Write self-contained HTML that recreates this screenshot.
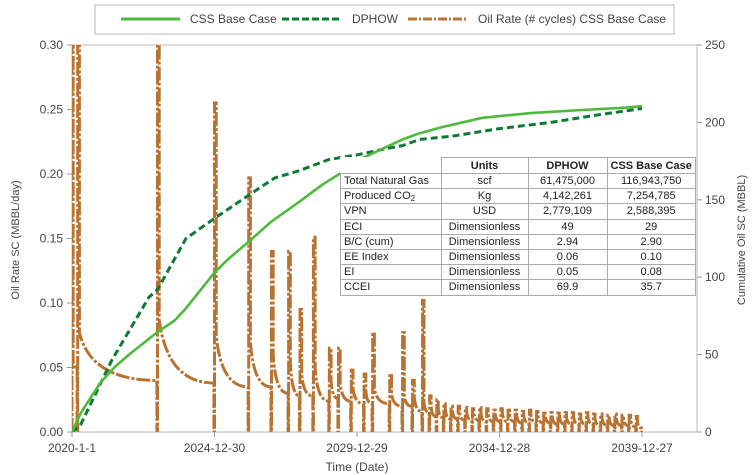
<!DOCTYPE html>
<html><head><meta charset="utf-8">
<style>
body{margin:0;background:#fff;font-family:"Liberation Sans",sans-serif;}
#wrap{position:relative;width:753px;height:475px;overflow:hidden;}
svg text{font-family:"Liberation Sans",sans-serif;fill:#444;}
table.kpi{position:absolute;left:340px;top:157px;border-collapse:collapse;background:#fff;font-size:11px;color:#222;}
table.kpi td{border:1px solid #aaa;height:14.2px;padding:0 3px;line-height:14px;white-space:nowrap;}
table.kpi td.c{text-align:center;}
table.kpi tr.h td{font-weight:bold;text-align:center;height:15px;}
table.kpi td.blank{border:none;border-right:1px solid #aaa;border-bottom:1px solid #aaa;}
sub{font-size:8px;line-height:0;vertical-align:-2px;}
</style></head>
<body>
<div id="wrap">
<svg id="chart" width="753" height="475"></svg>
<table class="kpi">
<tr class="h"><td class="blank" style="width:94px"></td><td style="width:80px">Units</td><td style="width:72px">DPHOW</td><td style="width:78px">CSS Base Case</td></tr>
<tr><td>Total Natural Gas</td><td class="c">scf</td><td class="c">61,475,000</td><td class="c">116,943,750</td></tr>
<tr><td>Produced CO<sub>2</sub></td><td class="c">Kg</td><td class="c">4,142,261</td><td class="c">7,254,785</td></tr>
<tr><td>VPN</td><td class="c">USD</td><td class="c">2,779,109</td><td class="c">2,588,395</td></tr>
<tr><td>ECI</td><td class="c">Dimensionless</td><td class="c">49</td><td class="c">29</td></tr>
<tr><td>B/C (cum)</td><td class="c">Dimensionless</td><td class="c">2.94</td><td class="c">2.90</td></tr>
<tr><td>EE Index</td><td class="c">Dimensionless</td><td class="c">0.06</td><td class="c">0.10</td></tr>
<tr><td>EI</td><td class="c">Dimensionless</td><td class="c">0.05</td><td class="c">0.08</td></tr>
<tr><td>CCEI</td><td class="c">Dimensionless</td><td class="c">69.9</td><td class="c">35.7</td></tr>
</table>
</div>
<script>
// ---- data ----
const xTickLabels = ["2020-1-1","2024-12-30","2029-12-29","2034-12-28","2039-12-27"];
const xTickYears = [0,5,10,15,20];
const leftTicks = [0,0.05,0.10,0.15,0.20,0.25,0.30];
const rightTicks = [0,50,100,150,200,250];
// cumulative oil (MBBL), years since 2020-1-1
const cssT = [0,0.3,1,1.5,2,3,3.6,4,5,5.5,6.2,7,8,8.8,9.5,10.2,10.9,11.6,12.2,13,14.4,16.1,17.9,19.4,20];
const cssV = [0,12,32,42,50,64.6,72,80,103,112,123,136,149,160,168,177,183,189,193,197,203,206,208,209.5,210.5];
const dphT = [0,0.3,1.4,2.7,3,4,5,6.2,7.1,8,9,10,11,11.6,12.2,13.3,15,16.8,18.5,20];
const dphV = [0,4.5,46.5,87,92,125,138,153,164,169,176,179,183,185,189,191,196,200,205,209];
// oil rate cycles (MBBL/day): start year, peak, value after spike, value at end of cycle
const cycStart = [0,0.2,3.0,5.0,6.2,7.0,7.6,8.0,8.47,9.03,9.35,9.8,10.25,10.55,11.15,11.6,11.95,12.3,12.55,12.8,13.05,13.3,13.55,13.8,14.05,14.3,14.55,14.8,15.05,15.3,15.55,15.8,16.05,16.3,16.55,16.8,17.05,17.3,17.55,17.8,18.05,18.3,18.55,18.8,19.05,19.3,19.55,19.8];
const cycPeak  = [0.30,0.30,0.30,0.255,0.197,0.14,0.14,0.095,0.151,0.065,0.065,0.048,0.045,0.077,0.045,0.077,0.04,0.102,0.028,0.025,0.022,0.020,0.020,0.019,0.018,0.019,0.018,0.017,0.018,0.017,0.017,0.016,0.017,0.016,0.016,0.015,0.016,0.015,0.015,0.014,0.015,0.014,0.014,0.013,0.014,0.013,0.013,0.012];
const cycAfter = [0.053,0.077,0.087,0.075,0.07,0.06,0.055,0.045,0.05,0.04,0.038,0.034,0.032,0.034,0.03,0.028,0.027,0.024,0.02,0.019,0.018,0.017,0.016,0.016,0.015,0.015,0.015,0.014,0.015,0.014,0.014,0.013,0.014,0.013,0.013,0.012,0.013,0.012,0.012,0.011,0.012,0.011,0.011,0.010,0.011,0.010,0.010,0.009];
const cycEnd   = [0.05,0.040,0.038,0.035,0.035,0.03,0.028,0.028,0.024,0.026,0.024,0.022,0.022,0.022,0.02,0.02,0.016,0.015,0.012,0.011,0.01,0.01,0.009,0.009,0.009,0.008,0.008,0.008,0.008,0.008,0.007,0.007,0.007,0.007,0.007,0.006,0.006,0.006,0.006,0.006,0.006,0.005,0.005,0.005,0.005,0.005,0.004,0.003];
const endYear = 20.0;

// ---- layout ----
const L=72,R=697,T=45,B=432;
const xs=t=>L+28.5*t;
const yl=v=>B-(v/0.30)*(B-T);
const yr=v=>B-(v/250)*(B-T);
const svg=document.getElementById('chart');
const NS='http://www.w3.org/2000/svg';
function mk(tag,attrs,parent){const e=document.createElementNS(NS,tag);for(const k in attrs)e.setAttribute(k,attrs[k]);(parent||svg).appendChild(e);return e;}

const defs=mk('defs',{});const cp=mk('clipPath',{id:'plotclip'},defs);mk('rect',{x:L,y:T,width:R-L,height:B-T},cp);

let e=mk('rect',{x:L,y:T,width:R-L,height:B-T,fill:'none',stroke:'#bbb','stroke-width':1});



leftTicks.forEach(v=>{
  const y=yl(v);
  let t=mk('line',{x1:L-5,x2:L,y1:y,y2:y,stroke:'#999'});
  
  
  let tx=mk('text',{x:L-9,y:y+4,'text-anchor':'end','font-size':12});
  tx.textContent=v.toFixed(2);
  
  
});
rightTicks.forEach(v=>{
  const y=yr(v);
  let t=mk('line',{x1:R,x2:R+5,y1:y,y2:y,stroke:'#999'});
  
  
  let tx=mk('text',{x:R+8,y:y+4,'text-anchor':'start','font-size':12});
  tx.textContent=v;
  
  
});
xTickYears.forEach((t,i)=>{
  const x=xs(t);
  let l=mk('line',{x1:x,x2:x,y1:B,y2:B+5,stroke:'#999'});
  
  
  let tx=mk('text',{x:x,y:B+20,'text-anchor':'middle','font-size':12});
  tx.textContent=xTickLabels[i];
  
  
});

e=mk('text',{x:357,y:471,'text-anchor':'middle','font-size':12});
e.textContent='Time (Date)';


e=mk('text',{x:0,y:0,'text-anchor':'middle','font-size':11,transform:'translate(19,240) rotate(-90)'});
e.textContent='Oil Rate SC (MBBL/day)';


e=mk('text',{x:0,y:0,'text-anchor':'middle','font-size':11,transform:'translate(745,240) rotate(-90)'});
e.textContent='Cumulative Oil SC (MBBL)';



const g=mk('g',{'clip-path':'url(#plotclip)'});

// oil rate series
let d='';
for(let i=0;i<cycStart.length;i++){
  const s=cycStart[i], nx=(i+1<cycStart.length?cycStart[i+1]:endYear);
  const dur=nx-s;
  const x0=xs(s), xa=xs(s+Math.min(0.06,dur*0.2)), xe=xs(nx-0.02);
  d+=(i===0?'M':'L')+x0+','+yl(0)+' L'+x0+','+yl(cycPeak[i])+' L'+xa+','+yl(cycPeak[i])+' L'+xa+','+yl(cycAfter[i]);
  const cx=xa+(xe-xa)*0.15, cy=yl(cycEnd[i]);
  d+=' Q'+cx+','+cy+' '+xe+','+yl(cycEnd[i])+' L'+xe+','+yl(0);
}
d+=' L'+xs(endYear)+','+yl(0);
e=mk('path',{d:d,fill:'none',stroke:'#b87333','stroke-width':3,'stroke-dasharray':'14,2,3,2'},g);



function line(ts,vs,attrs){
  const p=ts.map((t,i)=>(i?'L':'M')+xs(t).toFixed(1)+','+yr(vs[i]).toFixed(1)).join(' ');
  return mk('path',Object.assign({d:p,fill:'none','stroke-linejoin':'round'},attrs),g);
}
e=line(dphT,dphV,{stroke:'#0e7a35','stroke-width':3,'stroke-dasharray':'7,4'});


e=line(cssT,cssV,{stroke:'#4cbb3a','stroke-width':2.6});



const lg=mk('g',{});


mk('rect',{x:95,y:5,width:579,height:29,fill:'#fff',stroke:'#bbb'},lg);
e=mk('line',{x1:121,x2:180,y1:19,y2:19,stroke:'#4cbb3a','stroke-width':3},lg);


e=mk('text',{x:190,y:23,'font-size':12},lg);e.textContent='CSS Base Case';


e=mk('line',{x1:282,x2:340,y1:19,y2:19,stroke:'#0e7a35','stroke-width':3,'stroke-dasharray':'7,3'},lg);


e=mk('text',{x:352,y:23,'font-size':12},lg);e.textContent='DPHOW';


e=mk('line',{x1:408,x2:466,y1:19,y2:19,stroke:'#b87333','stroke-width':3,'stroke-dasharray':'9,2,2,2'},lg);


e=mk('text',{x:478,y:23,'font-size':12},lg);e.textContent='Oil Rate (# cycles) CSS Base Case';


</script>
</body></html>
